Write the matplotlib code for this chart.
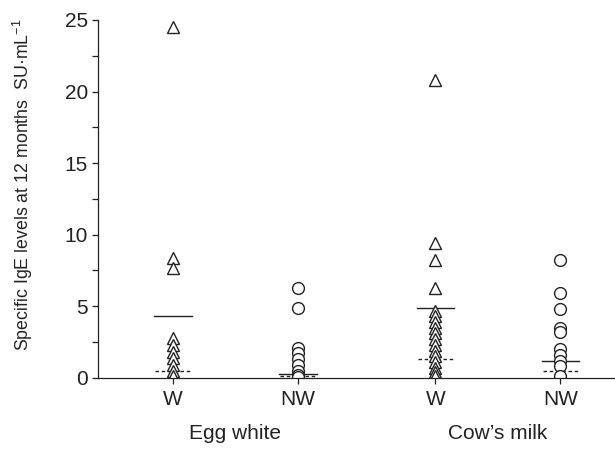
import matplotlib
matplotlib.use("Agg")
import matplotlib.pyplot as plt
from matplotlib.ticker import MultipleLocator

plt.rcParams['font.family'] = ['Liberation Sans', 'DejaVu Sans']
plt.rcParams['mathtext.fontset'] = 'custom'
plt.rcParams['mathtext.rm'] = 'Liberation Sans'
plt.rcParams['mathtext.default'] = 'rm'

# values (SU/mL)
groups = ["Egg white", "Cow\u2019s milk"]
tick_labels = ["W", "NW", "W", "NW"]
x_pos = [1.0, 2.0, 3.1, 4.1]

egg_w = [24.5, 8.4, 7.7, 2.8, 2.3, 1.8, 1.4, 0.9, 0.5, 0.1]
egg_nw = [6.3, 4.9, 2.1, 1.7, 1.3, 0.9, 0.5, 0.2, 0.05]
milk_w = [20.8, 9.4, 8.2, 6.3, 4.7, 4.3, 3.9, 3.5, 3.1, 2.7, 2.3, 1.9, 1.5, 1.1, 0.7, 0.4, 0.1]
milk_nw = [8.2, 5.9, 4.8, 3.5, 3.2, 2.0, 1.6, 1.2, 0.8, 0.1]

means = [4.35, 0.3, 4.9, 1.2]
medians = [0.5, 0.15, 1.3, 0.45]

series = [egg_w, egg_nw, milk_w, milk_nw]
markers = ["^", "o", "^", "o"]

ink = "#222222"

fig = plt.figure(figsize=(6.15, 4.53), dpi=100)
ax = fig.add_axes([0.159, 0.166, 0.841, 0.790])

for x, vals, m in zip(x_pos, series, markers):
    ax.plot([x] * len(vals), vals, linestyle="none", marker=m, ms=8.5 if m == "o" else 8,
            mfc="white", mec=ink, mew=1.0, zorder=3)

for x, mn, md in zip(x_pos, means, medians):
    ax.plot([x - 0.15, x + 0.15], [mn, mn], color=ink, lw=1.0, zorder=2)
    ax.plot([x - 0.14, x + 0.14], [md, md], color=ink, lw=1.0, ls=(0, (2.5, 2)), zorder=2)

ax.set_xlim(0.4, 4.536)
ax.set_ylim(0, 25)
ax.set_xticks(x_pos)
ax.set_xticklabels(tick_labels, fontsize=15, color=ink)
ax.yaxis.set_major_locator(MultipleLocator(5))
ax.yaxis.set_minor_locator(MultipleLocator(2.5))
ax.tick_params(axis="y", which="both", length=4, width=0.9, color=ink, labelsize=15, labelcolor=ink, pad=3)
ax.tick_params(axis="x", length=4, width=0.9, color=ink, pad=5)

for s in ["top", "right"]:
    ax.spines[s].set_visible(False)
for s in ["left", "bottom"]:
    ax.spines[s].set_color(ink)
    ax.spines[s].set_linewidth(0.9)
ax.spines["bottom"].set_zorder(4)

ax.set_ylabel("Specific IgE levels at 12 months  SU\u00b7mL$^{-1}$", fontsize=12.8, color=ink)
ax.yaxis.set_label_coords(-0.122, 0.54)

for i, g in enumerate(groups):
    xc = (x_pos[2 * i] + x_pos[2 * i + 1]) / 2
    ax.text(xc, -0.155, g, transform=ax.get_xaxis_transform(), ha="center", va="center",
            fontsize=15, color=ink)

fig.savefig("out.png", dpi=100)
